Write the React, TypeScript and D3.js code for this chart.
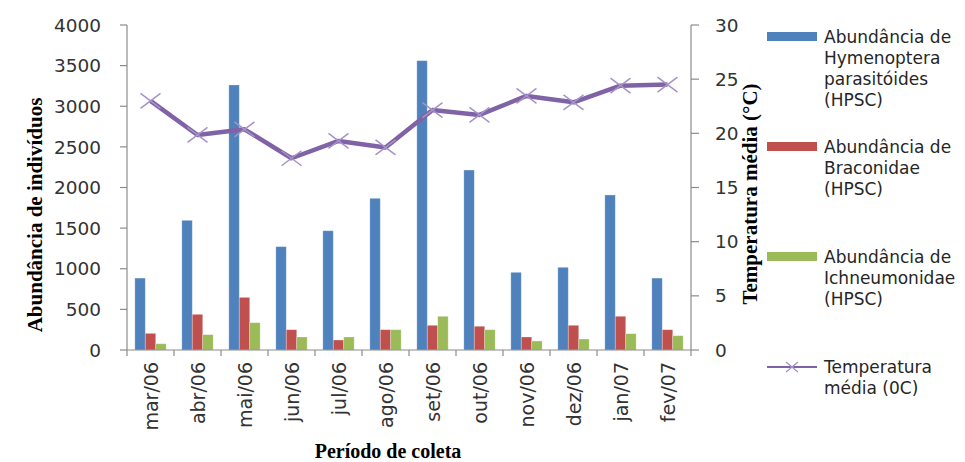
import React from "react";
import * as d3 from "d3";

const categories = ["mar/06", "abr/06", "mai/06", "jun/06", "jul/06", "ago/06", "set/06", "out/06", "nov/06", "dez/06", "jan/07", "fev/07"];
const hymenoptera = [885, 1596, 3262, 1272, 1468, 1867, 3561, 2215, 956, 1018, 1908, 885];
const braconidae = [205, 439, 648, 250, 123, 250, 304, 292, 160, 304, 415, 250];
const ichneumonidae = [77, 189, 336, 160, 160, 250, 415, 250, 111, 135, 201, 176];
const temperatura = [23.0, 19.85, 20.37, 17.7, 19.3, 18.7, 22.15, 21.7, 23.45, 22.86, 24.4, 24.5];
const leftTicks = [0, 500, 1000, 1500, 2000, 2500, 3000, 3500, 4000];
const rightTicks = [0, 5, 10, 15, 20, 25, 30];

const seriesNames = [
  ["Abundância de", "Hymenoptera", "parasitóides", "(HPSC)"],
  ["Abundância de", "Braconidae", "(HPSC)"],
  ["Abundância de", "Ichneumonidae", "(HPSC)"],
  ["Temperatura", "média (0C)"],
];
const colors = ["#4F81BD", "#C0504D", "#9BBB59"];
const lineColor = "#7F63A6";
const markerColor = "#A593C8";

export default function App() {
  const left = 127, right = 691, top = 25, bottom = 350;
  const x = d3.scaleBand<string>().domain(categories).range([left, right]).paddingInner(0).paddingOuter(0);
  const yL = d3.scaleLinear().domain([0, 4000]).range([bottom, top]);
  const yR = d3.scaleLinear().domain([0, 30]).range([bottom, top]);
  const bw = x.bandwidth() / 4.5;
  const data = [hymenoptera, braconidae, ichneumonidae];
  const line = d3.line<number>().x((_, i) => x(categories[i])! + x.bandwidth() / 2).y((d) => yR(d));
  const axisColor = "#8C8C8C";
  const sans = "DejaVu Sans";
  const serif = "Liberation Serif";
  const legendX = 767;
  const legendTextX = 824;
  const legendGroups = [
    { y: 37, swatch: 0 },
    { y: 147, swatch: 1 },
    { y: 257, swatch: 2 },
    { y: 367, swatch: 3 },
  ];
  return (
    <svg width={965} height={462} style={{ position: "absolute", left: 0, top: 0, background: "#fff" }}>
      {categories.map((c, i) => (
        <g key={c}>
          {data.map((s, k) => (
            <rect
              key={k}
              x={x(c)! + 0.75 * bw + k * bw}
              y={yL(s[i])}
              width={bw}
              height={bottom - yL(s[i])}
              fill={colors[k]}
              stroke="#ffffff"
              strokeOpacity={0.35}
              strokeWidth={0.8}
            />
          ))}
        </g>
      ))}
      <line x1={left} x2={left} y1={top} y2={bottom} stroke={axisColor} strokeWidth={1.2} />
      <line x1={right} x2={right} y1={top} y2={bottom} stroke={axisColor} strokeWidth={1.2} />
      <line x1={left} x2={right} y1={bottom} y2={bottom} stroke={axisColor} strokeWidth={1.2} />
      {leftTicks.map((t) => (
        <g key={"l" + t}>
          <line x1={left - 7} x2={left} y1={yL(t)} y2={yL(t)} stroke={axisColor} strokeWidth={1.2} />
          <text x={101} y={yL(t)} dy="0.36em" textAnchor="end" fontFamily={sans} fontSize={18.5} fill="#333">
            {t}
          </text>
        </g>
      ))}
      {rightTicks.map((t) => (
        <g key={"r" + t}>
          <line x1={right} x2={right + 8} y1={yR(t)} y2={yR(t)} stroke={axisColor} strokeWidth={1.2} />
          <text x={715} y={yR(t)} dy="0.36em" textAnchor="start" fontFamily={sans} fontSize={18.5} fill="#333">
            {t}
          </text>
        </g>
      ))}
      {categories.map((c, i) => (
        <line key={"xt" + i} x1={x(c)!} x2={x(c)!} y1={bottom} y2={bottom + 6} stroke={axisColor} strokeWidth={1.2} />
      ))}
      <line x1={right} x2={right} y1={bottom} y2={bottom + 6} stroke={axisColor} strokeWidth={1.2} />
      {categories.map((c) => {
        const cx = x(c)! + x.bandwidth() / 2;
        return (
          <text
            key={"xl" + c}
            transform={`translate(${cx + 7},362) rotate(-90)`}
            textAnchor="end"
            fontFamily={sans}
            fontSize={19}
            fill="#333"
          >
            {c}
          </text>
        );
      })}
      <path d={line(temperatura)!} fill="none" stroke={lineColor} strokeWidth={4.5} strokeLinejoin="round" />
      {temperatura.map((t, i) => {
        const cx = x(categories[i])! + x.bandwidth() / 2;
        const cy = yR(t);
        const s = 10;
        return (
          <path
            key={"m" + i}
            d={`M${cx - s},${cy - s * 0.75}L${cx + s},${cy + s * 0.75}M${cx - s},${cy + s * 0.75}L${cx + s},${cy - s * 0.75}`}
            stroke={markerColor}
            strokeWidth={1.5}
            fill="none"
          />
        );
      })}
      <text
        transform="translate(42,215) rotate(-90)"
        textAnchor="middle"
        fontFamily={serif}
        fontWeight="bold"
        fontSize={21}
        fill="#000"
      >
        Abundância de indivíduos
      </text>
      <text
        transform="translate(757,194) rotate(-90)"
        textAnchor="middle"
        fontFamily={serif}
        fontWeight="bold"
        fontSize={21}
        fill="#000"
      >
        Temperatura média (°C)
      </text>
      <text x={388} y={458} textAnchor="middle" fontFamily={serif} fontWeight="bold" fontSize={20} fill="#000">
        Período de coleta
      </text>
      {legendGroups.map((g, k) => (
        <g key={"lg" + k}>
          {g.swatch < 3 ? (
            <rect x={legendX} y={g.y - 5} width={50} height={9} fill={colors[g.swatch]} />
          ) : (
            <g>
              <line x1={legendX} x2={legendX + 50} y1={g.y} y2={g.y} stroke={lineColor} strokeWidth={2} />
              <path
                d={`M${legendX + 19},${g.y - 5}L${legendX + 31},${g.y + 5}M${legendX + 19},${g.y + 5}L${legendX + 31},${g.y - 5}`}
                stroke={markerColor}
                strokeWidth={1.3}
              />
            </g>
          )}
          {seriesNames[k].map((ln, j) => (
            <text key={j} x={legendTextX} y={g.y + j * 21} dy="0.36em" fontFamily={sans} fontSize={17} fill="#262626">
              {ln}
            </text>
          ))}
        </g>
      ))}
    </svg>
  );
}
